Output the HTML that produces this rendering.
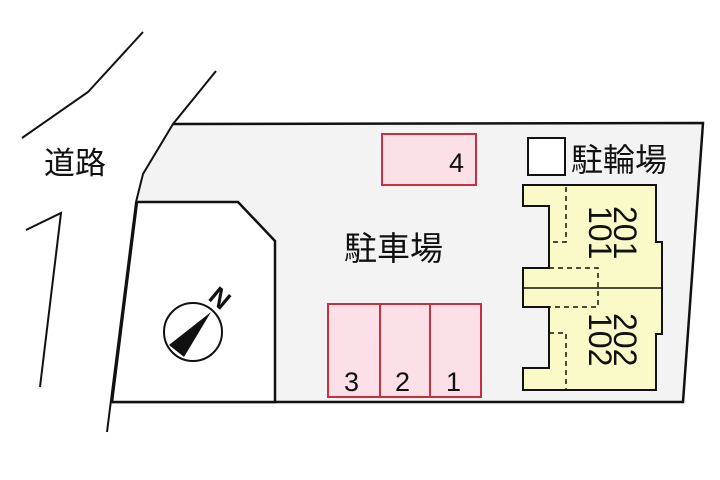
<!DOCTYPE html>
<html><head><meta charset="utf-8"><style>
html,body{margin:0;padding:0;background:#fff}
svg{display:block}
text{font-family:"Liberation Sans","Noto Sans CJK JP",sans-serif;fill:#111}
</style></head><body>
<svg width="720" height="480" viewBox="0 0 720 480">
<polygon points="173,124 703,123 683,402 112,402 136,202 143,174" fill="#f3f3f3"/>
<polyline points="216,71 173,124 143,174 136,202 107,432" fill="none" stroke="#111" stroke-width="2"/>
<polyline points="22,138 88,92 143,32" fill="none" stroke="#111" stroke-width="2"/>
<polyline points="26,230 61,213 40,387" fill="none" stroke="#111" stroke-width="2"/>
<polyline points="173,124 703,123 683,402 112,402" fill="none" stroke="#111" stroke-width="2.5"/>
<polygon points="137,202 238,202 275,241 275,402 112,402" fill="#fff" stroke="#111" stroke-width="2.5"/>
<circle cx="193" cy="332" r="29" fill="none" stroke="#111" stroke-width="2"/>
<polygon points="211,312 169,345 184,357" fill="#111"/>
<text x="220" y="307" font-size="26" font-weight="bold" text-anchor="middle" transform="rotate(40 220 298)">N</text>
<text x="44" y="174" font-size="31">道路</text>
<rect x="382" y="134" width="94" height="51" fill="#fbe0e8" stroke="#c8303f" stroke-width="2"/>
<text x="449" y="172" font-size="27">4</text>
<rect x="328" y="304" width="153" height="93" fill="#fbe0e8" stroke="#c8303f" stroke-width="2"/>
<line x1="380" y1="304" x2="380" y2="397" stroke="#c8303f" stroke-width="2"/>
<line x1="430" y1="304" x2="430" y2="397" stroke="#c8303f" stroke-width="2"/>
<text x="344" y="391" font-size="27">3</text>
<text x="395" y="391" font-size="27">2</text>
<text x="446" y="391" font-size="27">1</text>
<text x="344" y="260" font-size="33">駐車場</text>
<rect x="528" y="138" width="37" height="37" fill="#fff" stroke="#111" stroke-width="2"/>
<text x="571" y="171" font-size="32">駐輪場</text>
<polygon points="523,185 656,185 656,242 662,242 662,334 656,334 656,390 523,390 523,368 549,368 549,307 523,307 523,268 549,268 549,206 523,206" fill="#fafac8" stroke="#111" stroke-width="2"/>
<line x1="523" y1="288" x2="662" y2="288" stroke="#111" stroke-width="1.5"/>
<g fill="none" stroke="#111" stroke-width="1.5" stroke-dasharray="5,4">
<polyline points="566,187 566,242 549,242"/>
<polyline points="549,268 598,268 598,307 549,307"/>
<polyline points="549,333 566,333 566,390"/>
</g>
<text font-size="32" transform="translate(614,206) rotate(90)">201</text>
<text font-size="32" transform="translate(589,206) rotate(90)">101</text>
<text font-size="32" transform="translate(614,313) rotate(90)">202</text>
<text font-size="32" transform="translate(589,313) rotate(90)">102</text>
</svg>
</body></html>
